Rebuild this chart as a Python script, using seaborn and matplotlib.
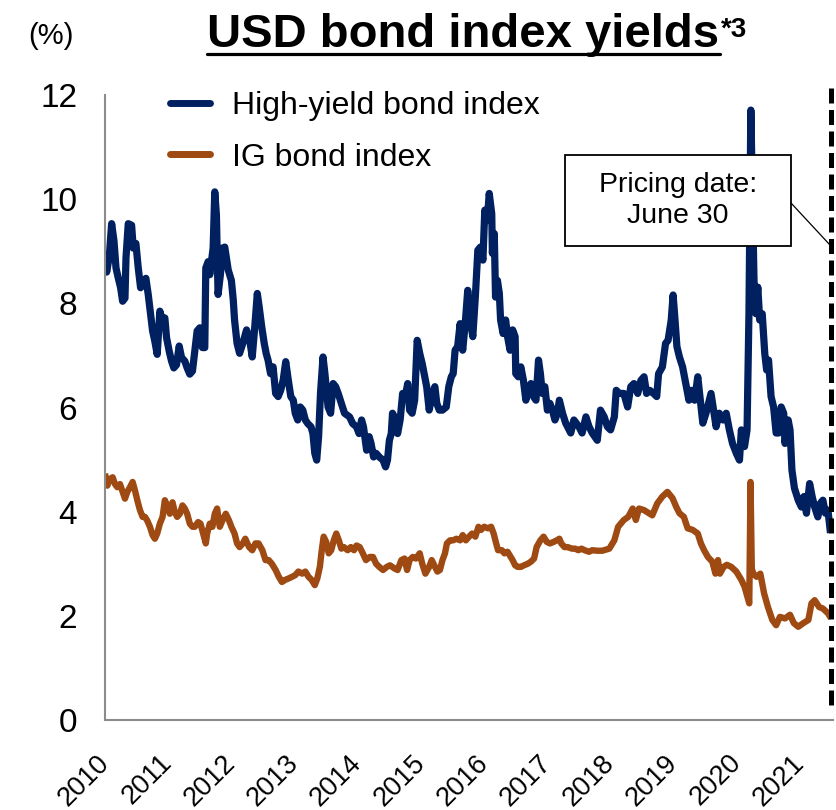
import numpy as np
import pandas as pd
import matplotlib
matplotlib.use("Agg")
import matplotlib.pyplot as plt
import seaborn as sns
from matplotlib.patches import Rectangle
from matplotlib.lines import Line2D

# ---------------- data ----------------
hy_year = [2010.000, 2010.026, 2010.068, 2010.105, 2010.142, 2010.174, 2010.211, 2010.247, 2010.279, 2010.316,
           2010.332, 2010.368, 2010.421, 2010.447, 2010.489, 2010.526, 2010.563, 2010.605, 2010.647, 2010.684,
           2010.711, 2010.753, 2010.789, 2010.826, 2010.868, 2010.911, 2010.947, 2010.974, 2011.016, 2011.053,
           2011.089, 2011.132, 2011.174, 2011.211, 2011.263, 2011.300, 2011.342, 2011.384, 2011.421, 2011.458,
           2011.500, 2011.542, 2011.579, 2011.595, 2011.632, 2011.658, 2011.684, 2011.711, 2011.737, 2011.763,
           2011.789, 2011.826, 2011.858, 2011.895, 2011.95, 2012.00, 2012.03, 2012.05, 2012.09, 2012.13,
           2012.18, 2012.24, 2012.29, 2012.33, 2012.37, 2012.41, 2012.44, 2012.48, 2012.52, 2012.55,
           2012.58, 2012.62, 2012.66, 2012.70, 2012.74, 2012.78, 2012.82, 2012.86, 2012.90, 2012.94,
           2012.98, 2013.01, 2013.05, 2013.09, 2013.13, 2013.17, 2013.21, 2013.26, 2013.29, 2013.32,
           2013.35, 2013.38, 2013.41, 2013.45, 2013.48, 2013.53, 2013.57, 2013.61, 2013.65, 2013.69,
           2013.74, 2013.79, 2013.87, 2013.92, 2013.98, 2014.02, 2014.06, 2014.09, 2014.14, 2014.18,
           2014.21, 2014.25, 2014.29, 2014.34, 2014.40, 2014.44, 2014.47, 2014.50, 2014.53, 2014.55,
           2014.60, 2014.63, 2014.67, 2014.71, 2014.76, 2014.79, 2014.82, 2014.86, 2014.90, 2014.94,
           2014.98, 2015.02, 2015.05, 2015.09, 2015.13, 2015.18, 2015.22, 2015.25, 2015.29, 2015.34,
           2015.40, 2015.44, 2015.48, 2015.51, 2015.54, 2015.58, 2015.62, 2015.66, 2015.70, 2015.74,
           2015.78, 2015.82, 2015.86, 2015.90, 2015.94, 2015.98, 2016.01, 2016.05, 2016.08, 2016.12,
           2016.13, 2016.16, 2016.18, 2016.21, 2016.24, 2016.26, 2016.30, 2016.34, 2016.37, 2016.41,
           2016.45, 2016.49, 2016.50, 2016.54, 2016.58, 2016.62, 2016.66, 2016.69, 2016.74, 2016.78,
           2016.82, 2016.86, 2016.89, 2016.92, 2016.96, 2017.00, 2017.04, 2017.08, 2017.12, 2017.16,
           2017.19, 2017.24, 2017.29, 2017.37, 2017.42, 2017.50, 2017.55, 2017.61, 2017.66, 2017.71,
           2017.79, 2017.84, 2017.90, 2017.95, 2018.00, 2018.06, 2018.09, 2018.14, 2018.21, 2018.27,
           2018.32, 2018.37, 2018.43, 2018.48, 2018.53, 2018.57, 2018.62, 2018.68, 2018.73, 2018.76,
           2018.82, 2018.87, 2018.91, 2018.96, 2018.99, 2019.02, 2019.05, 2019.09, 2019.14, 2019.18,
           2019.24, 2019.28, 2019.33, 2019.38, 2019.42, 2019.46, 2019.51, 2019.59, 2019.63, 2019.67,
           2019.72, 2019.78, 2019.83, 2019.88, 2019.93, 2019.99, 2020.04, 2020.07, 2020.12, 2020.16,
           2020.19, 2020.22, 2020.24, 2020.27, 2020.30, 2020.33, 2020.36, 2020.40, 2020.44, 2020.47,
           2020.50, 2020.54, 2020.58, 2020.62, 2020.66, 2020.70, 2020.74, 2020.76, 2020.81, 2020.84,
           2020.87, 2020.91, 2020.97, 2021.02, 2021.06, 2021.10, 2021.15, 2021.19, 2021.23, 2021.28,
           2021.32, 2021.36, 2021.40, 2021.44, 2021.48]
hy_yield = [9.00, 8.60, 8.90, 9.53, 9.20, 8.68, 8.48, 8.30, 8.04, 8.10,
            8.87, 9.53, 9.50, 9.06, 9.15, 8.68, 8.30, 8.43, 8.48, 8.17,
            7.90, 7.47, 7.27, 7.02, 7.85, 7.66, 7.72, 7.34, 7.08, 6.89,
            6.76, 6.82, 7.18, 6.96, 6.89, 6.76, 6.64, 6.70, 7.08, 7.47,
            7.53, 7.15, 7.15, 8.68, 8.80, 8.55, 8.80, 9.06, 10.14, 9.70,
            8.17, 8.55, 9.06, 9.08, 8.64, 8.44, 8.06, 7.68, 7.23, 7.04,
            7.23, 7.49, 7.29, 6.97, 7.55, 8.19, 7.93, 7.55, 7.23, 7.04,
            6.91, 6.65, 6.78, 6.27, 6.21, 6.33, 6.53, 6.88, 6.53, 6.21,
            6.14, 5.89, 5.76, 6.01, 5.95, 5.76, 5.69, 5.63, 5.50, 5.12,
            4.99, 5.44, 6.27, 6.97, 6.65, 6.01, 5.89, 6.46, 6.40, 6.27,
            6.08, 5.89, 5.82, 5.69, 5.63, 5.50, 5.76, 5.63, 5.18, 5.44,
            5.31, 5.05, 5.12, 5.05, 4.99, 4.86, 4.99, 5.37, 5.50, 5.89,
            5.76, 5.50, 5.76, 6.27, 6.27, 6.46, 5.95, 5.89, 6.14, 7.29,
            7.04, 6.84, 6.65, 6.40, 5.95, 6.27, 6.40, 6.08, 5.95, 5.95,
            6.01, 6.40, 6.59, 6.65, 7.10, 7.17, 7.61, 7.10, 7.61, 8.25,
            7.68, 7.36, 8.12, 9.02, 9.08, 8.83, 9.79, 9.59, 10.11, 9.72,
            8.96, 9.34, 8.12, 8.44, 8.19, 7.68, 7.42, 7.68, 7.36, 7.10,
            7.49, 7.36, 6.65, 6.59, 6.78, 6.53, 6.14, 6.33, 6.46, 6.21,
            6.14, 6.91, 6.65, 6.27, 6.40, 5.95, 6.08, 5.95, 5.76, 5.89,
            6.14, 5.89, 5.70, 5.51, 5.76, 5.63, 5.51, 5.82, 5.63, 5.51,
            5.37, 5.95, 5.82, 5.63, 5.57, 5.82, 6.33, 6.27, 6.27, 6.01,
            6.40, 6.46, 6.27, 6.52, 6.59, 6.27, 6.33, 6.27, 6.21, 6.65,
            6.78, 7.23, 7.29, 7.68, 8.16, 7.68, 7.17, 6.97, 6.78, 6.52,
            6.14, 6.33, 6.14, 6.59, 6.14, 5.70, 5.89, 6.27, 5.95, 5.63,
            5.89, 5.76, 5.89, 5.57, 5.31, 5.12, 4.99, 5.57, 5.25, 5.57,
            7.80, 11.71, 10.36, 8.44, 7.80, 8.31, 7.68, 7.80, 7.04, 6.72,
            6.91, 6.21, 6.01, 5.51, 5.51, 6.01, 5.89, 5.31, 5.76, 5.57,
            4.80, 4.45, 4.22, 4.09, 4.29, 3.97, 4.54, 4.29, 4.09, 3.90,
            4.16, 4.22, 3.97, 4.03, 3.59]

ig_year = [2010.000, 2010.037, 2010.079, 2010.121, 2010.158, 2010.195, 2010.237, 2010.279, 2010.316, 2010.353,
           2010.395, 2010.437, 2010.474, 2010.511, 2010.553, 2010.595, 2010.632, 2010.668, 2010.711, 2010.753,
           2010.789, 2010.826, 2010.868, 2010.911, 2010.947, 2010.984, 2011.026, 2011.068, 2011.105, 2011.142,
           2011.184, 2011.226, 2011.263, 2011.300, 2011.342, 2011.384, 2011.421, 2011.474, 2011.511, 2011.553,
           2011.595, 2011.616, 2011.658, 2011.700, 2011.737, 2011.774, 2011.816, 2011.858, 2011.911, 2011.963,
           2012.00, 2012.05, 2012.09, 2012.13, 2012.18, 2012.22, 2012.28, 2012.33, 2012.38, 2012.43,
           2012.49, 2012.54, 2012.59, 2012.64, 2012.70, 2012.75, 2012.80, 2012.85, 2012.91, 2012.96,
           2013.01, 2013.06, 2013.12, 2013.17, 2013.22, 2013.27, 2013.32, 2013.36, 2013.40, 2013.43,
           2013.46, 2013.50, 2013.54, 2013.58, 2013.62, 2013.66, 2013.70, 2013.74, 2013.78, 2013.84,
           2013.89, 2013.94, 2013.98, 2014.03, 2014.08, 2014.13, 2014.19, 2014.24, 2014.29, 2014.34,
           2014.40, 2014.46, 2014.51, 2014.58, 2014.63, 2014.69, 2014.74, 2014.78, 2014.82, 2014.87,
           2014.92, 2014.98, 2015.02, 2015.07, 2015.13, 2015.17, 2015.21, 2015.26, 2015.30, 2015.34,
           2015.38, 2015.41, 2015.46, 2015.51, 2015.56, 2015.62, 2015.66, 2015.71, 2015.76, 2015.81,
           2015.86, 2015.91, 2015.95, 2016.00, 2016.06, 2016.11, 2016.15, 2016.19, 2016.22, 2016.28,
           2016.32, 2016.37, 2016.42, 2016.45, 2016.49, 2016.53, 2016.58, 2016.63, 2016.69, 2016.74,
           2016.79, 2016.83, 2016.89, 2016.94, 2016.99, 2017.04, 2017.10, 2017.15, 2017.19, 2017.22,
           2017.27, 2017.32, 2017.39, 2017.44, 2017.49, 2017.54, 2017.59, 2017.66, 2017.71, 2017.79,
           2017.87, 2017.98, 2018.06, 2018.12, 2018.21, 2018.28, 2018.35, 2018.40, 2018.45, 2018.53,
           2018.61, 2018.66, 2018.74, 2018.82, 2018.90, 2018.98, 2019.04, 2019.09, 2019.16, 2019.22,
           2019.30, 2019.38, 2019.43, 2019.48, 2019.54, 2019.61, 2019.66, 2019.70, 2019.73, 2019.79,
           2019.84, 2019.91, 2019.99, 2020.07, 2020.12, 2020.195, 2020.215, 2020.235, 2020.26, 2020.31,
           2020.37, 2020.43, 2020.49, 2020.56, 2020.62, 2020.68, 2020.76, 2020.84, 2020.90, 2020.97,
           2021.05, 2021.13, 2021.18, 2021.23, 2021.30, 2021.36, 2021.44, 2021.49]
ig_yield = [4.73, 4.50, 4.63, 4.66, 4.53, 4.47, 4.53, 4.38, 4.25, 4.38,
            4.47, 4.57, 4.41, 4.22, 4.03, 3.90, 3.90, 3.83, 3.71, 3.55,
            3.48, 3.58, 3.77, 3.90, 4.22, 4.12, 3.96, 4.18, 3.99, 3.90,
            3.96, 4.12, 4.06, 3.96, 3.77, 3.71, 3.71, 3.80, 3.77, 3.58,
            3.39, 3.58, 3.77, 3.71, 3.96, 4.06, 3.71, 3.83, 3.96, 3.83,
            3.71, 3.58, 3.39, 3.32, 3.39, 3.48, 3.32, 3.26, 3.39, 3.39,
            3.26, 3.07, 3.07, 3.00, 2.88, 2.75, 2.65, 2.69, 2.72, 2.75,
            2.78, 2.85, 2.81, 2.85, 2.75, 2.69, 2.59, 2.72, 2.94, 3.26,
            3.52, 3.42, 3.20, 3.26, 3.45, 3.58, 3.45, 3.29, 3.32, 3.26,
            3.32, 3.26, 3.35, 3.32, 3.20, 3.07, 3.13, 3.13, 3.00, 2.94,
            2.88, 2.94, 2.97, 2.91, 2.88, 3.07, 3.10, 2.88, 3.07, 3.13,
            3.10, 3.20, 3.00, 2.81, 2.94, 3.07, 2.97, 2.85, 2.88, 3.07,
            3.20, 3.39, 3.45, 3.45, 3.48, 3.45, 3.55, 3.45, 3.52, 3.58,
            3.52, 3.71, 3.65, 3.71, 3.68, 3.71, 3.58, 3.39, 3.26, 3.26,
            3.20, 3.23, 3.13, 3.07, 2.97, 2.94, 2.94, 2.97, 3.00, 3.04,
            3.10, 3.32, 3.45, 3.52, 3.42, 3.39, 3.42, 3.45, 3.48, 3.39,
            3.32, 3.32, 3.29, 3.29, 3.26, 3.29, 3.26, 3.23, 3.26, 3.25,
            3.25, 3.29, 3.45, 3.71, 3.84, 3.90, 4.06, 3.84, 4.06, 4.03,
            3.97, 3.93, 4.16, 4.29, 4.38, 4.26, 4.09, 3.97, 3.90, 3.68,
            3.65, 3.58, 3.39, 3.26, 3.13, 3.04, 2.81, 3.07, 2.81, 2.94,
            2.98, 2.94, 2.85, 2.69, 2.56, 2.24, 4.57, 2.90, 2.81, 2.75,
            2.81, 2.43, 2.17, 1.92, 1.82, 1.98, 1.95, 2.02, 1.86, 1.79,
            1.86, 1.92, 2.24, 2.30, 2.17, 2.14, 2.05, 1.95]

series_names = ["High-yield bond index", "IG bond index"]
series_colors = ["#002060", "#9E4A12"]
year_ticks = list(range(2010, 2022))
y_ticks = [0, 2, 4, 6, 8, 10, 12]
pricing_date = 2021.49
annotation_text = "Pricing date:\nJune 30"
title_text = "USD bond index yields"
title_sup = "*3"
unit_text = "(%)"

# ---------------- figure ----------------
sns.set_theme(style="white")
plt.rcParams["font.family"] = ["Liberation Sans", "DejaVu Sans"]
plt.rcParams["text.color"] = "black"
plt.rcParams["axes.labelcolor"] = "black"
plt.rcParams["xtick.color"] = "black"
plt.rcParams["ytick.color"] = "black"

df = pd.concat([
    pd.DataFrame({"year": hy_year, "yield": hy_yield, "series": series_names[0]}),
    pd.DataFrame({"year": ig_year, "yield": ig_yield, "series": series_names[1]}),
], ignore_index=True)

W, H = 836, 810
fig = plt.figure(figsize=(W / 100, H / 100), dpi=100)
ax = fig.add_axes([105 / W, 90 / H, 728 / W, 625 / H])

sns.lineplot(data=df, x="year", y="yield", hue="series", hue_order=series_names,
             palette=dict(zip(series_names, series_colors)), estimator=None, sort=False,
             legend=False, ax=ax, linewidth=5)
for ln, lw in zip(ax.lines[:2], [5.2, 4.6]):
    ln.set_linewidth(lw)
    ln.set_solid_joinstyle("round")
    ln.set_solid_capstyle("butt")

ax.set_xlim(2010, 2021.52)
ax.set_ylim(0, 12)
ax.set_xticks(year_ticks)
ax.set_xticklabels([str(y) for y in year_ticks], rotation=45, ha="right", va="center",
                   rotation_mode="anchor", fontsize=19.5, color="black")
ax.set_yticks(y_ticks)
ax.set_yticklabels([str(v) for v in y_ticks], fontsize=24, color="black")
ax.tick_params(axis="both", direction="in", length=8, width=1.5, color="#8c8c8c", labelcolor="black")
ax.tick_params(axis="x", pad=28)
ax.tick_params(axis="y", pad=20)
ax.set_xlabel("")
ax.set_ylabel("")
for side in ["top", "right"]:
    ax.spines[side].set_visible(False)
for side in ["left", "bottom"]:
    ax.spines[side].set_color("#8c8c8c")
    ax.spines[side].set_linewidth(1.5)
ax.grid(False)

# legend
leg_handles = [Line2D([0], [0], color=c, lw=5, solid_capstyle="round") for c in series_colors]
leg = ax.legend(leg_handles, series_names, loc="upper left", bbox_to_anchor=(0.072, 1.027),
                frameon=False, fontsize=23, handlelength=1.25, handletextpad=0.7,
                labelspacing=0.68, borderaxespad=0)
for t in leg.get_texts():
    t.set_color("black")

# pricing date dashed line
ax.axvline(pricing_date, ymin=0.024, ymax=1.011, color="black", lw=3.6,
           linestyle=(0, (3.0, 1.3)), clip_on=False, zorder=5)

# annotation box + connector
x0, x1 = (565 - 105) / 728, (791 - 105) / 728
y0, y1 = (720 - 246) / 625, (720 - 155) / 625
ax.add_patch(Rectangle((x0, y0), x1 - x0, y1 - y0, transform=ax.transAxes,
                       facecolor="white", edgecolor="black", lw=1.3, zorder=6))
ax.text((x0 + x1) / 2, (y0 + y1) / 2, annotation_text, transform=ax.transAxes,
        ha="center", va="center", fontsize=20.5, linespacing=1.25, zorder=7, color="black")
ax.plot([x1, (830 - 105) / 728], [(720 - 203) / 625, (720 - 245) / 625],
        transform=ax.transAxes, color="black", lw=0.9, zorder=6, clip_on=False)

# unit label
fig.text(28 / W, 1 - 44 / H, unit_text, fontsize=21, ha="left", va="baseline", color="black")

# title with underline and superscript
title = fig.text(463.5 / W, 1 - 47 / H, title_text, fontsize=34, fontweight="bold",
                 ha="center", va="baseline", color="black")
fig.canvas.draw()
r = fig.canvas.get_renderer()
bb = title.get_window_extent(r).transformed(fig.transFigure.inverted())
uy = 1 - 54 / H
fig.add_artist(Line2D([bb.x0, bb.x1], [uy, uy], transform=fig.transFigure,
                      color="black", lw=2.3))
fig.text(bb.x1 + 1 / W, 1 - 17 / H, title_sup, fontsize=20, fontweight="bold",
         ha="left", va="top", color="black")

fig.savefig("out.png", dpi=100)
